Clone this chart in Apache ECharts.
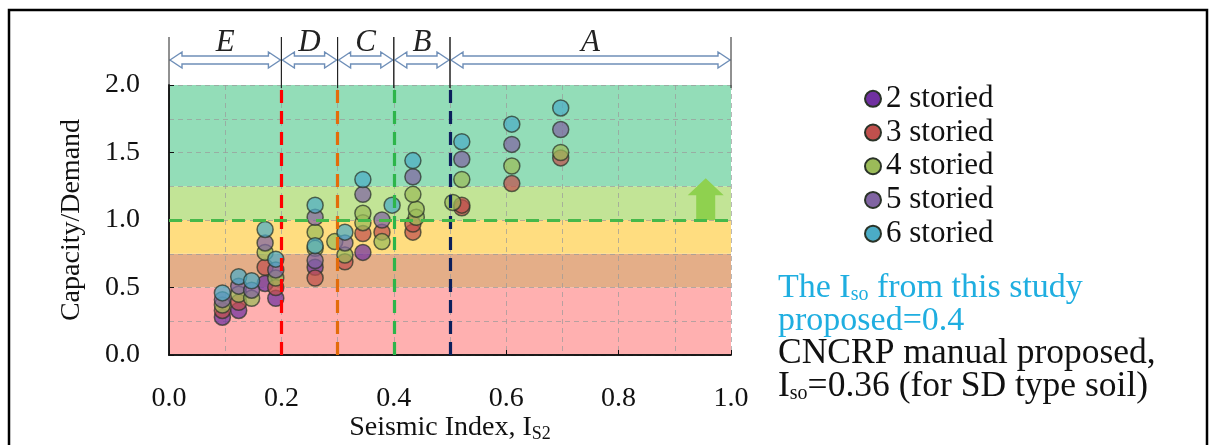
<!DOCTYPE html>
<html>
<head>
<meta charset="utf-8">
<script src="https://cdn.jsdelivr.net/npm/echarts@6/dist/echarts.min.js"></script>
<style>
  html, body { margin: 0; padding: 0; background: #fff; }
  #chart { width: 1210px; height: 445px; }
</style>
</head>
<body>
<div id="chart"></div>
<script>
// seismic index (x) vs capacity/demand (y), one array per storey
var storied2 = [[0.095, 0.28], [0.124, 0.33], [0.171, 0.53], [0.19, 0.42], [0.26, 0.65], [0.345, 0.76]];
var storied3 = [[0.095, 0.33], [0.124, 0.39], [0.171, 0.65], [0.19, 0.50], [0.26, 0.57], [0.313, 0.69],
  [0.345, 0.90], [0.379, 0.91], [0.434, 0.91], [0.434, 0.97], [0.521, 1.09], [0.521, 1.11], [0.61, 1.27], [0.697, 1.46]];
var storied4 = [[0.095, 0.37], [0.124, 0.45], [0.147, 0.42], [0.171, 0.76], [0.19, 0.57], [0.26, 0.79], [0.26, 0.91],
  [0.295, 0.84], [0.313, 0.74], [0.345, 0.98], [0.345, 1.05], [0.379, 0.84], [0.44, 1.02], [0.44, 1.08],
  [0.434, 1.19], [0.505, 1.13], [0.521, 1.30], [0.61, 1.40], [0.697, 1.50]];
var storied5 = [[0.095, 0.41], [0.124, 0.51], [0.147, 0.48], [0.171, 0.83], [0.19, 0.63], [0.26, 0.70], [0.26, 1.02],
  [0.313, 0.83], [0.345, 1.19], [0.379, 1.00], [0.434, 1.32], [0.521, 1.45], [0.61, 1.56], [0.697, 1.67]];
var storied6 = [[0.095, 0.46], [0.124, 0.58], [0.147, 0.55], [0.171, 0.93], [0.19, 0.71], [0.26, 0.81], [0.26, 1.11],
  [0.313, 0.91], [0.345, 1.30], [0.397, 1.11], [0.434, 1.44], [0.521, 1.58], [0.61, 1.71], [0.697, 1.83]];

var seriesNames = ['2 storied', '3 storied', '4 storied', '5 storied', '6 storied'];
var seriesColors = ['#7030A0', '#C0504D', '#9BBB59', '#8064A2', '#4BACC6'];

// background bands (capacity/demand)
var bandLow = [0, 0.5, 0.75, 1.0, 1.25];
var bandHigh = [0.5, 0.75, 1.0, 1.25, 2.0];
var bandColors = ['#FFB0B0', '#E4AE88', '#FFDD80', '#C2E496', '#93DDB8'];

// zones on top of the plot
var zoneStart = [0, 0.2, 0.3, 0.4, 0.5];
var zoneEnd = [0.2, 0.3, 0.4, 0.5, 1.0];
var zoneNames = ['E', 'D', 'C', 'B', 'A'];

// dashed limit lines
var limitX = [0.2, 0.3, 0.4, 0.5];
var limitColors = ['#FF0000', '#E36C0A', '#2DB54A', '#0B1F5C'];
var limitY = 1.0;

var arrowUp = [[0.955, 1.0, 1.31]];

var xTicks = { min: 0, max: 1, interval: 0.2 };
var yTicks = { min: 0, max: 2, interval: 0.5 };

var serif = '"Liberation Serif", "DejaVu Serif", serif';
var chart = echarts.init(document.getElementById('chart'));

var bandData = [];
for (var i = 0; i < bandLow.length; i++) {
  bandData.push([bandLow[i], bandHigh[i]]);
}
var zoneData = [];
for (var z = 0; z < zoneStart.length; z++) {
  zoneData.push([zoneStart[z], zoneEnd[z]]);
}

var series = [];

series.push({
  type: 'custom',
  z: 0,
  silent: true,
  data: bandData,
  renderItem: function (params, api) {
    var p1 = api.coord([0, api.value(1)]);
    var p2 = api.coord([1, api.value(0)]);
    return {
      type: 'rect',
      shape: { x: p1[0], y: p1[1], width: p2[0] - p1[0], height: p2[1] - p1[1] },
      style: { fill: bandColors[params.dataIndex] }
    };
  }
});

var allData = [storied2, storied3, storied4, storied5, storied6];
for (var s = 0; s < allData.length; s++) {
  series.push({
    name: seriesNames[s],
    type: 'scatter',
    z: 3,
    symbol: 'circle',
    symbolSize: 16,
    data: allData[s],
    itemStyle: {
      color: seriesColors[s],
      opacity: 0.72,
      borderColor: '#2a3328',
      borderWidth: 1.5
    }
  });
}

// zone header: double arrows + letters
series.push({
  type: 'custom',
  silent: true,
  data: zoneData,
  renderItem: function (params, api) {
    var x1 = api.coord([api.value(0), 2])[0];
    var x2 = api.coord([api.value(1), 2])[0];
    var top = api.coord([0, 2])[1];
    var yc = top - 25, sh = 4, hh = 8, hl = 12;
    var a = x1 + 1, b = x2 - 1;
    return {
      type: 'group',
      children: [
        {
          type: 'polygon',
          shape: { points: [[a, yc], [a + hl, yc - hh], [a + hl, yc - sh], [b - hl, yc - sh], [b - hl, yc - hh], [b, yc],
            [b - hl, yc + hh], [b - hl, yc + sh], [a + hl, yc + sh], [a + hl, yc + hh]] },
          style: { fill: '#fff', stroke: '#6F8FB8', lineWidth: 1.4 }
        },
        { type: 'line', shape: { x1: x1, y1: top - 48, x2: x1, y2: top + 3 }, style: { stroke: '#222', lineWidth: 1 } },
        { type: 'line', shape: { x1: x2, y1: top - 48, x2: x2, y2: top + 3 }, style: { stroke: '#222', lineWidth: 1 } },
        {
          type: 'text',
          style: {
            x: (x1 + x2) / 2, y: top - 42, text: zoneNames[params.dataIndex],
            font: 'italic 31px ' + serif, fill: '#222', align: 'center', verticalAlign: 'middle'
          }
        }
      ]
    };
  }
});

// green arrow pointing up
series.push({
  type: 'custom',
  silent: true,
  data: arrowUp,
  renderItem: function (params, api) {
    var base = api.coord([api.value(0), api.value(1)]);
    var tip = api.coord([api.value(0), api.value(2)]);
    var x = base[0], hw = 18, sw = 9.5, hl = 17;
    return {
      type: 'polygon',
      shape: { points: [[x - sw, base[1]], [x - sw, tip[1] + hl], [x - hw, tip[1] + hl], [x, tip[1]],
        [x + hw, tip[1] + hl], [x + sw, tip[1] + hl], [x + sw, base[1]]] },
      style: { fill: '#8FD14F' }
    };
  }
});

// limit lines
var lineData = [];
for (var k = 0; k < limitX.length; k++) {
  lineData.push({ xAxis: limitX[k], lineStyle: { color: limitColors[k] } });
}
lineData.push([{ coord: [0, limitY], lineStyle: { color: '#46B84A' } }, { coord: [1, limitY] }]);
series.push({
  type: 'scatter',
  data: [],
  markLine: {
    silent: true,
    symbol: 'none',
    label: { show: false },
    lineStyle: { type: [13, 8], width: 3.2 },
    data: lineData
  }
});

var splitDash = { show: true, lineStyle: { color: '#9a9a9a', type: [5, 4], width: 1, opacity: 0.7 } };

chart.setOption({
  animation: false,
  backgroundColor: '#fff',
  grid: { left: 169, right: 479, top: 85, bottom: 90, outerBoundsMode: 'none' },
  legend: {
    orient: 'vertical',
    left: 859,
    top: 78,
    itemWidth: 16,
    itemHeight: 16,
    itemGap: 2,
    icon: 'circle',
    data: seriesNames,
    itemStyle: { opacity: 1 },
    textStyle: { fontFamily: serif, fontSize: 31, color: '#111', lineHeight: 31.7 }
  },
  xAxis: [{
    type: 'value',
    min: xTicks.min, max: xTicks.max, interval: xTicks.interval,
    z: 1,
    name: '{a|Seismic Index, I}{s|S2}',
    nameLocation: 'middle',
    nameGap: 58,
    nameMoveOverlap: false,
    nameTextStyle: {
      rich: {
        a: { fontFamily: serif, fontSize: 28, color: '#111', lineHeight: 30 },
        s: { fontFamily: serif, fontSize: 18, color: '#111', lineHeight: 18, verticalAlign: 'bottom', padding: [12, 0, 0, 0] }
      }
    },
    axisLine: { lineStyle: { color: '#111', width: 1.5 } },
    axisTick: { show: true, inside: true, length: 5, lineStyle: { color: '#111' } },
    axisLabel: { fontFamily: serif, fontSize: 28, color: '#111', margin: 30,
      formatter: function (v) { return v.toFixed(1); } },
    splitLine: splitDash,
    minorTick: { show: false, splitNumber: 2 },
    minorSplitLine: splitDash
  }, {
    type: 'value', position: 'top', min: 0, max: 1, z: 1,
    axisLine: { show: true, lineStyle: { color: '#111', width: 1.5 } },
    axisTick: { show: false }, axisLabel: { show: false }, splitLine: { show: false }
  }],
  yAxis: [{
    type: 'value',
    min: yTicks.min, max: yTicks.max, interval: yTicks.interval,
    z: 1,
    name: 'Capacity/Demand',
    nameLocation: 'middle',
    nameGap: 83,
    nameMoveOverlap: false,
    nameTextStyle: { fontFamily: serif, fontSize: 28, color: '#111' },
    axisLine: { show: true, lineStyle: { color: '#111', width: 1.5 } },
    axisTick: { show: true, inside: true, length: 5, lineStyle: { color: '#111' } },
    axisLabel: { fontFamily: serif, fontSize: 28, color: '#111', margin: 29,
      formatter: function (v) { return v.toFixed(1); } },
    splitLine: splitDash,
    minorTick: { show: false, splitNumber: 2 },
    minorSplitLine: splitDash
  }, {
    type: 'value', position: 'right', min: 0, max: 2, z: 1,
    axisLine: { show: true, lineStyle: { color: '#111', width: 1.5 } },
    axisTick: { show: false }, axisLabel: { show: false }, splitLine: { show: false }
  }],
  graphic: [
    { type: 'rect', shape: { x: 9, y: 10, width: 1198, height: 460 }, style: { fill: 'none', stroke: '#000', lineWidth: 2.5 }, silent: true },
    {
      type: 'text', left: 778, top: 270,
      style: {
        text: '{a|The I}{s|so}{a| from this study}\n{a|proposed=0.4}',
        rich: {
          a: { fontFamily: serif, fontSize: 34, fill: '#1FAEE0', lineHeight: 33 },
          s: { fontFamily: serif, fontSize: 20, fill: '#1FAEE0', lineHeight: 33, verticalAlign: 'bottom', padding: [15, 0, 0, 0] }
        }
      }
    },
    {
      type: 'text', left: 778, top: 336,
      style: {
        text: '{a|CNCRP manual proposed,}\n{a|I}{s|so}{a|=0.36 (for SD type soil)}',
        rich: {
          a: { fontFamily: serif, fontSize: 35.5, fill: '#111', lineHeight: 33 },
          s: { fontFamily: serif, fontSize: 20, fill: '#111', lineHeight: 33, verticalAlign: 'bottom', padding: [15, 0, 0, 0] }
        }
      }
    }
  ],
  series: series
});
</script>
</body>
</html>
